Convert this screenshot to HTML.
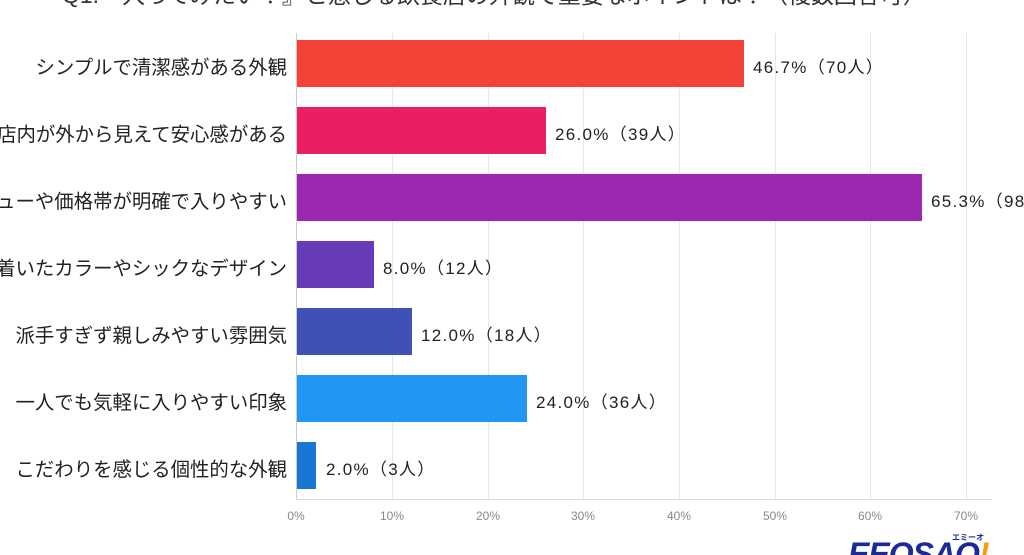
<!DOCTYPE html>
<html><head><meta charset="utf-8"><style>
html,body{margin:0;width:1024px;height:555px;overflow:hidden}
body{background:#fff;position:relative;font-family:"Liberation Sans","Noto Sans CJK JP",sans-serif;color:#222}
.t{position:absolute;white-space:nowrap}
.title{left:62px;top:-24px;font-size:23px;color:#333}
.g{position:absolute;top:33px;height:466px;width:1px;background:#e6e6e6}
.bar{position:absolute;left:297px;height:47px}
.lab{position:absolute;right:737px;font-size:19.4px;text-align:right;white-space:nowrap}
.val{position:absolute;font-size:17px;letter-spacing:1.3px;white-space:nowrap}
.ax{position:absolute;top:509px;font-size:12px;color:#888;transform:translateX(-50%)}
</style></head><body>
<div class="t title">Q1.『入ってみたい！』と感じる飲食店の外観で重要なポイントは？（複数回答可）</div>
<div class="g" style="left:296px;background:#ccc"></div>
<div class="g" style="left:392px"></div><div class="g" style="left:488px"></div><div class="g" style="left:583px"></div><div class="g" style="left:679px"></div><div class="g" style="left:775px"></div><div class="g" style="left:870px"></div><div class="g" style="left:966px"></div>
<div style="position:absolute;left:296px;top:499px;width:696px;height:1px;background:#ddd"></div>

<div class="bar" style="top:40px;width:447px;background:#f44336"></div>
<div class="bar" style="top:107px;width:249px;background:#e91e63"></div>
<div class="bar" style="top:174px;width:625px;background:#9c27b0"></div>
<div class="bar" style="top:241px;width:77px;background:#673ab7"></div>
<div class="bar" style="top:308px;width:115px;background:#3f51b5"></div>
<div class="bar" style="top:375px;width:230px;background:#2196f3"></div>
<div class="bar" style="top:442px;width:19px;background:#1976d2"></div>

<div class="lab" style="top:51px">シンプルで清潔感がある外観</div>
<div class="lab" style="top:118px">店内が外から見えて安心感がある</div>
<div class="lab" style="top:185px">メニューや価格帯が明確で入りやすい</div>
<div class="lab" style="top:252px">落ち着いたカラーやシックなデザイン</div>
<div class="lab" style="top:319px">派手すぎず親しみやすい雰囲気</div>
<div class="lab" style="top:386px">一人でも気軽に入りやすい印象</div>
<div class="lab" style="top:453px">こだわりを感じる個性的な外観</div>

<div class="val" style="left:753px;top:53px">46.7%（70人）</div>
<div class="val" style="left:555px;top:120px">26.0%（39人）</div>
<div class="val" style="left:931px;top:187px">65.3%（98人）</div>
<div class="val" style="left:383px;top:254px">8.0%（12人）</div>
<div class="val" style="left:421px;top:321px">12.0%（18人）</div>
<div class="val" style="left:536px;top:388px">24.0%（36人）</div>
<div class="val" style="left:326px;top:455px">2.0%（3人）</div>

<div class="ax" style="left:296px">0%</div><div class="ax" style="left:392px">10%</div><div class="ax" style="left:488px">20%</div><div class="ax" style="left:583px">30%</div><div class="ax" style="left:679px">40%</div><div class="ax" style="left:775px">50%</div><div class="ax" style="left:870px">60%</div><div class="ax" style="left:966px">70%</div>

<div class="t" style="left:848px;top:536px;font-size:32px;font-weight:bold;font-style:italic;color:#1a2a9a;letter-spacing:-1px">EEOSAO<span style="color:#f5a000">!</span></div>
<div class="t" style="left:952px;top:532px;font-size:8px;color:#1a2a9a;font-weight:bold">エミーオ</div>
</body></html>
